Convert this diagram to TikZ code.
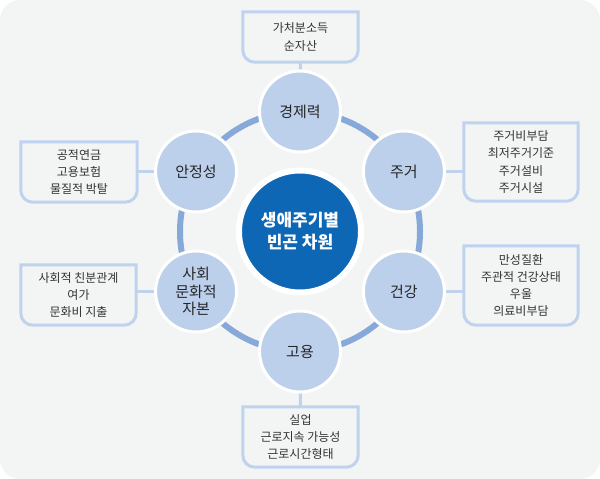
\documentclass[tikz,border=0pt]{standalone}
\usepackage{fontspec}
\setmainfont{Noto Sans CJK KR}
\usetikzlibrary{backgrounds,calc}
\definecolor{bgc}{HTML}{F3F4F4}
\definecolor{ringc}{HTML}{87A9DA}
\definecolor{nodec}{HTML}{BCCFEB}
\definecolor{boxc}{HTML}{BFD2EE}
\definecolor{centc}{HTML}{0D67B5}
\definecolor{txtc}{HTML}{333333}
\tikzset{
  dim/.style={circle, fill=nodec, draw=white, line width=3pt, minimum size=81pt, inner sep=0pt,
    align=center, text=black!85, font=\fontsize{15}{17.5}\selectfont},
  core/.style={circle, fill=centc, draw=white, line width=6pt, minimum size=122pt, inner sep=0pt,
    align=center, text=white, font=\fontsize{17}{22}\selectfont\bfseries},
  infobox/.style={draw=none, inner sep=0pt, align=center, text=txtc, font=\fontsize{12}{17.3}\selectfont},
  boxline/.style={draw=boxc, line width=3pt, fill=bgc},
  conn/.style={draw=boxc, line width=3pt},
  ringline/.style={draw=ringc, line width=6pt}
}
\newcommand{\outlinebox}[1]{%
  \draw[boxline] (#1.north west) -- ([yshift=12pt]#1.south west)
    arc[start angle=180,end angle=270,radius=12pt] -- ([xshift=-12pt]#1.south east)
    arc[start angle=270,end angle=360,radius=12pt] -- (#1.north east) -- cycle;}
\begin{document}
\begin{tikzpicture}[x=1pt,y=1pt]
\useasboundingbox (0,0) rectangle (600,479);
\coordinate (c) at (300,247.5);
% boxes (outlines drawn first, text nodes on top)
\node[infobox, minimum width=115pt, minimum height=50pt] (b1) at (300.5,442) {};
\node[infobox, minimum width=116pt, minimum height=60pt] (b6) at (79,307) {};
\node[infobox, minimum width=114pt, minimum height=78pt] (b2) at (521,317) {};
\node[infobox, minimum width=115pt, minimum height=60pt] (b5) at (78.5,184) {};
\node[infobox, minimum width=114pt, minimum height=79pt] (b3) at (521,193.5) {};
\node[infobox, minimum width=115pt, minimum height=60pt] (b4) at (300.5,42) {};
\foreach \b in {b1,b2,b3,b4,b5,b6} {\outlinebox{\b}}
\node[infobox] at (b1) {가처분소득\\순자산};
\node[infobox] at (b6) {공적연금\\고용보험\\물질적 박탈};
\node[infobox] at (b2) {주거비부담\\최저주거기준\\주거설비\\주거시설};
\node[infobox] at (b5) {사회적 친분관계\\여가\\문화비 지출};
\node[infobox] at (b3) {만성질환\\주관적 건강상태\\우울\\의료비부담};
\node[infobox] at (b4) {실업\\근로지속 가능성\\근로시간형태};
% circles
\node[core] (core) at (c) {생애주기별\\빈곤 차원};
\node[dim] (n1) at ($(c)+(90:120)$) {경제력};
\node[dim] (n2) at ($(c)+(30:120)$) {주거};
\node[dim] (n3) at ($(c)+(-30:120)$) {건강};
\node[dim] (n4) at ($(c)+(-90:120)$) {고용};
\node[dim] (n5) at ($(c)+(210:120)$) {사회\\문화적\\자본};
\node[dim] (n6) at ($(c)+(150:120)$) {안정성};
\begin{pgfonlayer}{background}
\fill[bgc, rounded corners=20pt] (0,0) rectangle (600,479);
\draw[ringline] (c) circle[radius=120];
\draw[conn] (n1) -- (b1.south);
\draw[conn] (n4) -- (b4.north);
\draw[conn] (n2) -- (n2 -| b2.west);
\draw[conn] (n3) -- (n3 -| b3.west);
\draw[conn] (n5) -- (n5 -| b5.east);
\draw[conn] (n6) -- (n6 -| b6.east);
\end{pgfonlayer}
\end{tikzpicture}
\end{document}
